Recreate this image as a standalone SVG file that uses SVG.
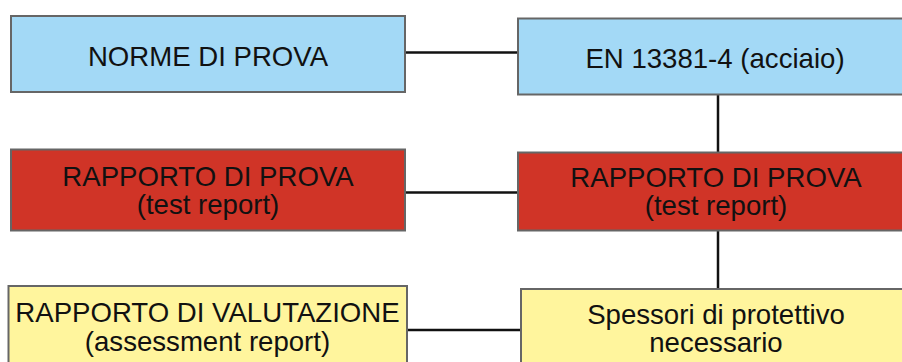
<svg xmlns="http://www.w3.org/2000/svg" width="902" height="362" viewBox="0 0 902 362">
<style>
.box{stroke:#666666;stroke-width:2}
.blue{fill:#A3D9F6}
.red{fill:#D03427}
.yellow{fill:#FFF59D}
.lbl{font-family:"Liberation Sans",Arial,sans-serif;font-size:27.6px;fill:#111111;text-anchor:middle}
.conn{stroke:#111111;stroke-width:2.5;fill:none}
</style>
<g id="connectors">
<line class="conn" x1="405" y1="52.5" x2="518" y2="52.5"/>
<line class="conn" x1="405" y1="192.5" x2="518" y2="192.5"/>
<line class="conn" x1="407" y1="330" x2="521" y2="330"/>
<line class="conn" x1="718" y1="94" x2="718" y2="152"/>
<line class="conn" x1="718" y1="231" x2="718" y2="289"/>
</g>
<g id="norme">
<rect class="box blue" x="11" y="16" width="394" height="76"/>
<text class="lbl" x="208" y="65.5">NORME DI PROVA</text>
</g>
<g id="en13381">
<rect class="box blue" x="518" y="18.5" width="396" height="76"/>
<text class="lbl" x="715" y="68">EN 13381-4 (acciaio)</text>
</g>
<g id="rapporto-left">
<rect class="box red" x="11" y="149.5" width="394" height="81"/>
<text class="lbl" x="208" y="185.5">RAPPORTO DI PROVA</text>
<text class="lbl" x="208" y="214">(test report)</text>
</g>
<g id="rapporto-right">
<rect class="box red" x="518" y="152.5" width="396" height="78"/>
<text class="lbl" x="716" y="186.5">RAPPORTO DI PROVA</text>
<text class="lbl" x="716" y="215">(test report)</text>
</g>
<g id="valutazione">
<rect class="box yellow" x="8.5" y="286" width="398.5" height="90"/>
<text class="lbl" x="207.5" y="322">RAPPORTO DI VALUTAZIONE</text>
<text class="lbl" x="207.5" y="350.5">(assessment report)</text>
</g>
<g id="spessori">
<rect class="box yellow" x="521" y="289" width="396" height="90"/>
<text class="lbl" x="716" y="323.5">Spessori di protettivo</text>
<text class="lbl" x="716" y="352">necessario</text>
</g>
</svg>
